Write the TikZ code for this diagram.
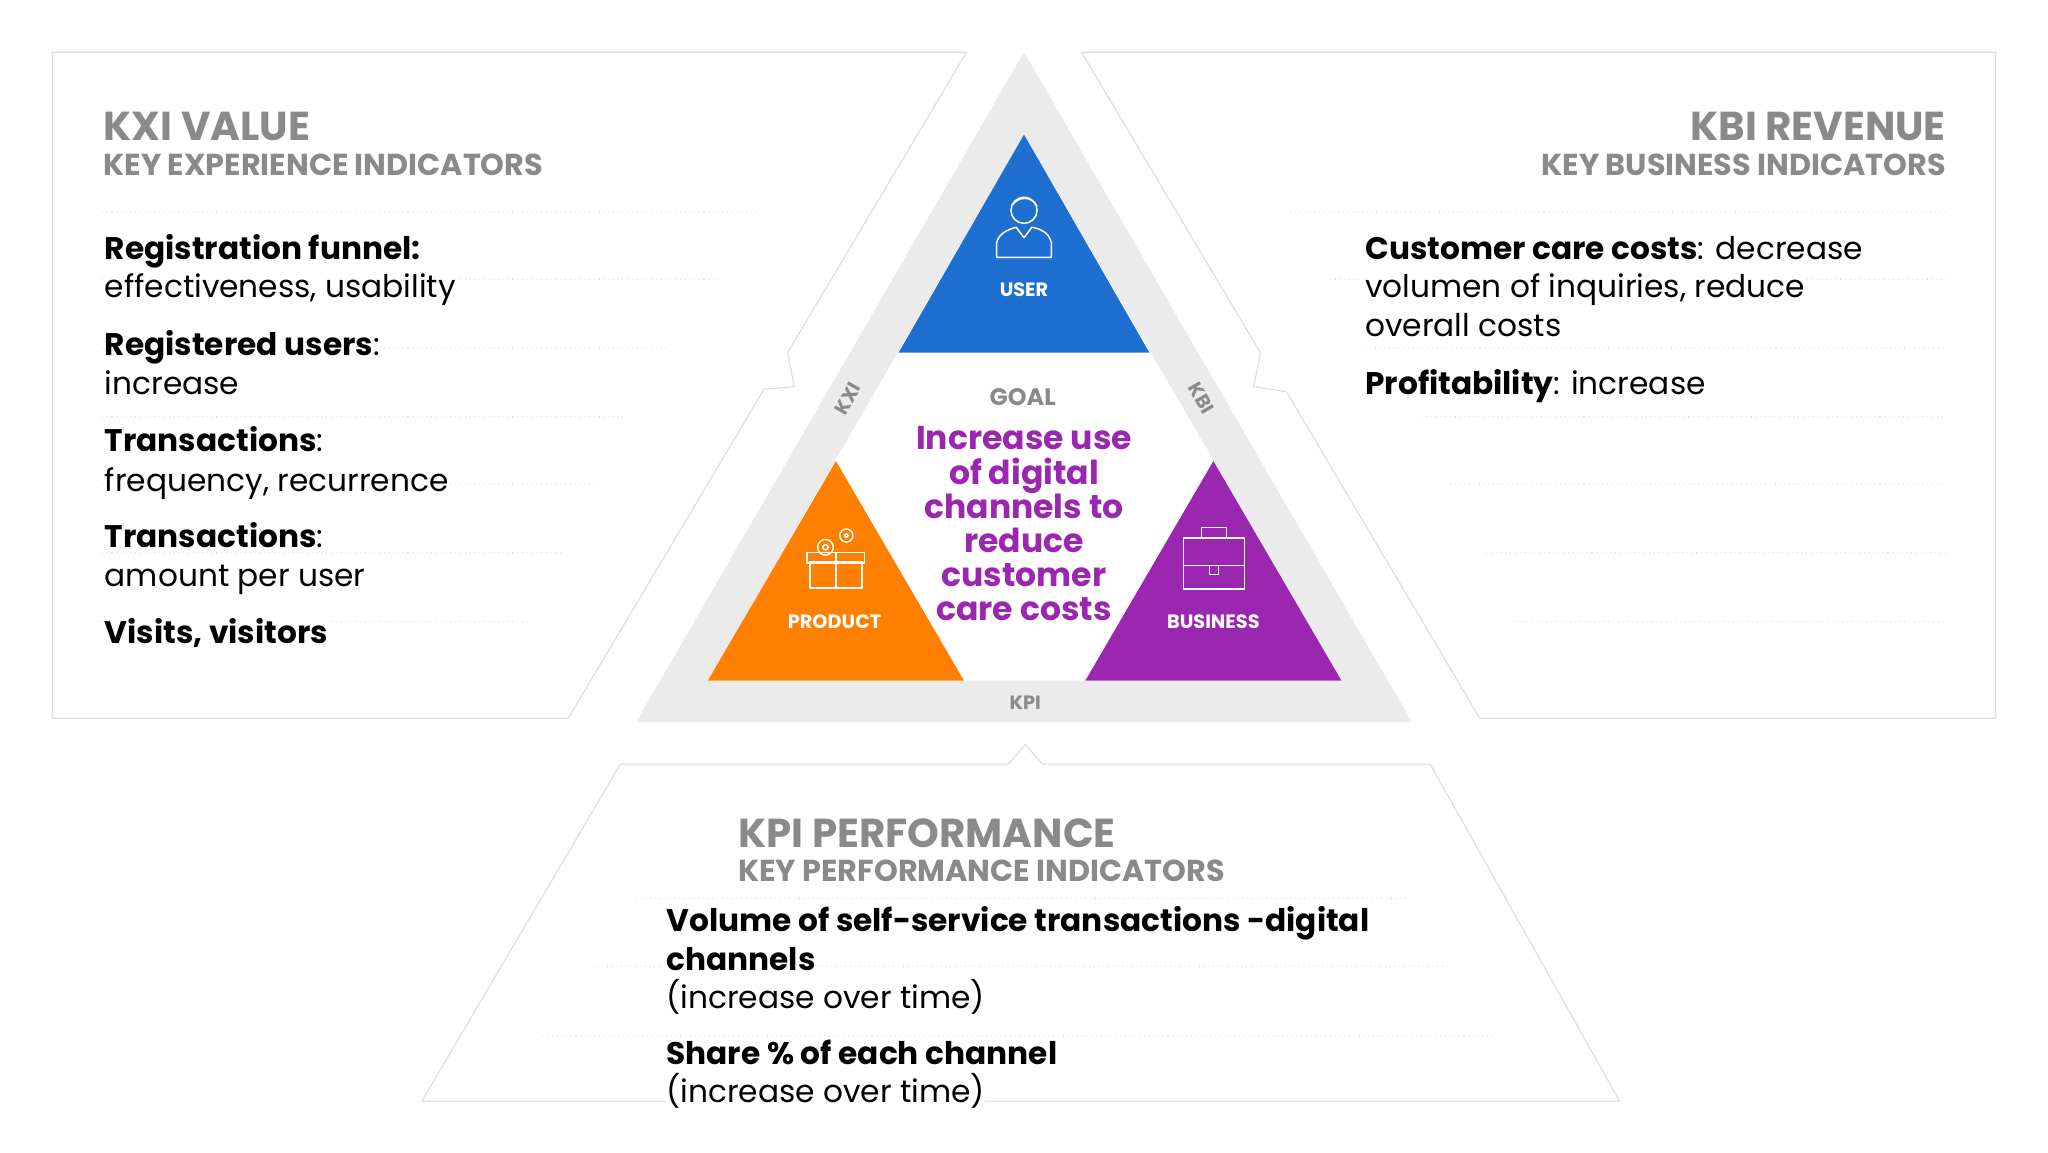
\documentclass[tikz,border=0pt]{standalone}
\usepackage{fontspec}
\setmainfont{Poppins}
\definecolor{ublue}{HTML}{1F6FD0}
\definecolor{uorange}{HTML}{FF7F00}
\definecolor{upurple}{HTML}{9B27B0}
\definecolor{hgray}{HTML}{8A8A8A}
\definecolor{lgray}{HTML}{DDDDDD}
\definecolor{bgray}{HTML}{EBEBEB}
\begin{document}
\begin{tikzpicture}[x=0.25mm,y=-0.25mm,
  panel/.style={draw=lgray,line width=0.6pt,fill=white},
  sep/.style={draw=lgray,dotted,line width=0.6pt},
  body/.style={anchor=base west,inner sep=0pt,font=\fontsize{17}{20}\selectfont,yshift=-6*0.25mm},
  ttl/.style={inner sep=0pt,text=hgray,font=\fontsize{22}{26}\selectfont\bfseries},
  sub/.style={inner sep=0pt,text=hgray,font=\fontsize{16.5}{19}\selectfont\bfseries},
  tri/.style={white,font=\fontsize{10.5}{12}\selectfont\bfseries},
  ic/.style={draw=white,line width=0.8pt,line join=round}]
\useasboundingbox (0,0) rectangle (1568,882);
\fill[white] (0,0) rectangle (1568,882);
% panels
\draw[panel] (40,40) -- (740,40) -- (603,270) -- (608,296) -- (585,298) -- (435,550) -- (40,550) -- cycle;
\draw[panel] (1528,40) -- (828,40) -- (965,270) -- (960,296) -- (985,300) -- (1133,550) -- (1528,550) -- cycle;
\draw[panel] (475,585) -- (772,585) -- (785,570) -- (798,585) -- (1095,585) -- (1240,843) -- (323,843) -- cycle;
% big triangle
\fill[bgray] (784,40) -- (1081,553) -- (487,553) -- cycle;
\fill[white] (784,103) -- (1027,521) -- (542,521) -- cycle;
\fill[ublue] (784,103) -- (880,270) -- (688,270) -- cycle;
\fill[uorange] (640,353) -- (738,521) -- (542,521) -- cycle;
\fill[upurple] (929,353) -- (1027,521) -- (831,521) -- cycle;
\node[tri] (u) at (784,222) {USER};
\node[tri] (p) at (639,476) {PRODUCT};
\node[tri] (b) at (929,476) {BUSINESS};
\node[text=hgray,font=\fontsize{10.5}{12}\selectfont\bfseries,rotate=60] (kxi) at (649,305) {KXI};
\node[text=hgray,font=\fontsize{10.5}{12}\selectfont\bfseries,rotate=-60] (kbi) at (920,305) {KBI};
\node[text=hgray,font=\fontsize{10.5}{12}\selectfont\bfseries] (kpi) at (785,538) {KPI};
\node[text=hgray,font=\fontsize{13}{15}\selectfont\bfseries] (goal) at (783,304) {GOAL};
\node[text=upurple,align=center,font=\fontsize{18}{18.6}\selectfont\bfseries] (gt) at (784,401) {Increase use\\of digital\\channels to\\reduce\\customer\\care costs};
% icons
\draw[ic] (784,161) circle (10);
\draw[ic] (775,157) .. controls (780,150) and (790,150) .. (794,158);
\draw[ic] (763,197) -- (763,186) .. controls (765,177) and (775,175) .. (778,174) -- (784,182) -- (790,174) .. controls (795,175) and (803,177) .. (805,186) -- (805,197) -- cycle;
\draw[ic] (620,430) rectangle (660,450) (618,423) rectangle (662,431) (640,423) -- (640,450);
\draw[ic] (632,419) circle (6) (648,410) circle (5);
\draw[ic] (632,419) circle (2) (648,410) circle (1.5);
\draw[ic] (906,412) rectangle (953,451) (906,433) -- (953,433);
\draw[ic] (920,412) -- (920,404) -- (939,404) -- (939,412);
\draw[ic] (926,433) rectangle (933,440);
% left panel
\node[ttl,anchor=west] (t1) at (79,97) {KXI VALUE};
\node[sub,anchor=west] (s1) at (79,126) {KEY EXPERIENCE INDICATORS};
\draw[sep] (78,162) -- (580,162);
\draw[sep] (78,214) -- (550,214);
\draw[sep] (78,267) -- (510,267);
\draw[sep] (78,319) -- (480,319);
\draw[sep] (78,371) -- (458,371);
\draw[sep] (78,423) -- (430,423);
\draw[sep] (78,476) -- (405,476);
\node[body,fill=white] (l1) at (80,193) {\textbf{Registration funnel:}};
\node[body,fill=white] (l2) at (80,222) {effectiveness, usability};
\node[body,fill=white] (l3) at (80,266) {\textbf{Registered users}:};
\node[body,fill=white] (l4) at (80,296) {increase};
\node[body,fill=white] (l5) at (80,340) {\textbf{Transactions}:};
\node[body,fill=white] (l6) at (80,370) {frequency, recurrence};
\node[body,fill=white] (l7) at (80,413) {\textbf{Transactions}:};
\node[body,fill=white] (l8) at (80,443) {amount per user};
\node[body,fill=white] (l9) at (80,487) {\textbf{Visits, visitors}};
% right panel
\node[ttl,anchor=east] (t2) at (1490,97) {KBI REVENUE};
\node[sub,anchor=east] (s2) at (1490,126) {KEY BUSINESS INDICATORS};
\draw[sep] (988,162) -- (1490,162);
\draw[sep] (1018,214) -- (1490,214);
\draw[sep] (1045,267) -- (1490,267);
\draw[sep] (1088,319) -- (1490,319);
\draw[sep] (1110,371) -- (1490,371);
\draw[sep] (1138,423) -- (1490,423);
\draw[sep] (1162,476) -- (1490,476);
\node[body,fill=white] (r1) at (1045,193) {\textbf{Customer care costs}: decrease};
\node[body,fill=white] (r2) at (1045,222) {volumen of inquiries, reduce};
\node[body,fill=white] (r3) at (1045,252) {overall costs};
\node[body,fill=white] (r4) at (1045,296) {\textbf{Profitability}: increase};
% bottom
\node[ttl,anchor=west] (t3) at (565,638) {KPI PERFORMANCE};
\node[sub,anchor=west] (s3) at (565,667) {KEY PERFORMANCE INDICATORS};
\draw[sep] (487,688) -- (1077,688);
\draw[sep] (457,740) -- (1110,740);
\draw[sep] (415,793) -- (1143,793);
\node[body,fill=white] (b1) at (510,707) {\textbf{Volume of self-service transactions -digital}};
\node[body,fill=white] (b2) at (510,737) {\textbf{channels}};
\node[body,fill=white] (b3) at (510,766) {(increase over time)};
\node[body,fill=white] (b4) at (510,809) {\textbf{Share \% of each channel}};
\node[body,fill=white] (b5) at (510,838) {(increase over time)};
\end{tikzpicture}
\end{document}
